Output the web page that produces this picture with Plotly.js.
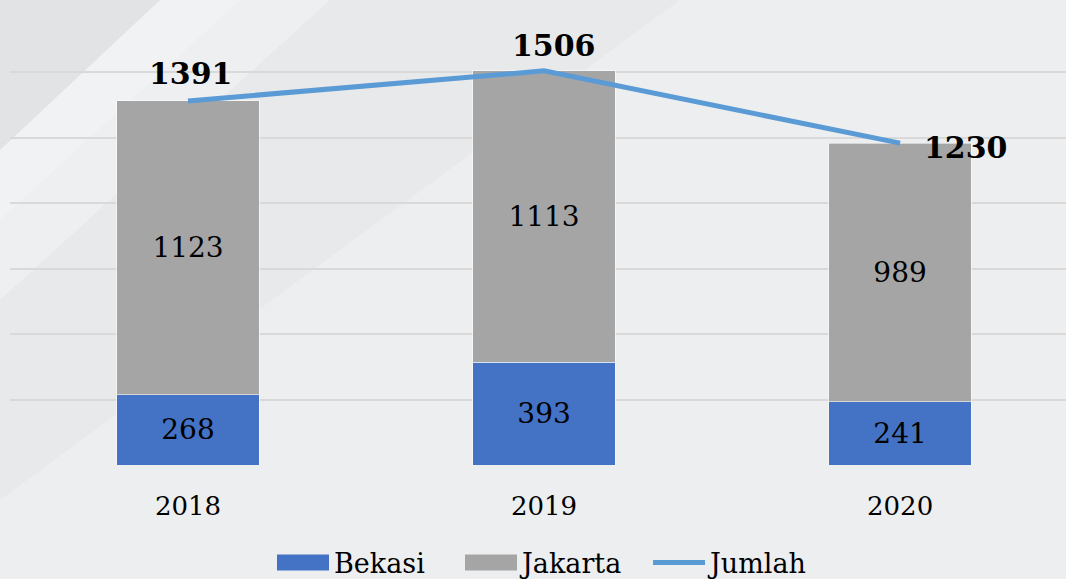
<!DOCTYPE html>
<html>
<head>
<meta charset="utf-8">
<script src="https://cdn.plot.ly/plotly-3.0.1.min.js"></script>
<style>html,body{margin:0;padding:0;background:#EDEEF0;overflow:hidden;}#chart{width:1066px;height:579px;}</style>
</head>
<body>
<div id="chart"></div>
<script>
const years = ['2018', '2019', '2020'];
const bekasi = [268, 393, 241];
const jakarta = [1123, 1113, 989];
const jumlah = [1391, 1506, 1230];

const W = 1066, H = 579, L = 10, R = 0, T = 7, B = 114;
const pw = W - L - R, ph = H - T - B;
function px(x){ return (x - L) / pw; }
function py(y){ return (H - B - y) / ph; }
function path(pts){ return 'M' + pts.map(p => px(p[0]).toFixed(4) + ',' + py(p[1]).toFixed(4)).join(' L') + ' Z'; }

const font = 'DejaVu Serif, Georgia, serif';
const blue = '#4472C4', gray = '#A5A5A5', lineBlue = '#5B9BD5';

const traces = [
  {
    type: 'bar', name: 'Bekasi', x: years, y: bekasi, showlegend: false,
    marker: {color: blue, line: {color: 'rgba(255,255,255,0.55)', width: 1}},
    text: bekasi.map(String), textposition: 'inside', insidetextanchor: 'middle',
    textangle: 0, constraintext: 'none',
    textfont: {family: font, size: 28, color: '#000000'}, hoverinfo: 'skip'
  },
  {
    type: 'bar', name: 'Jakarta', x: years, y: jakarta, showlegend: false,
    marker: {color: gray, line: {color: 'rgba(255,255,255,0.55)', width: 1}},
    text: jakarta.map(String), textposition: 'inside', insidetextanchor: 'middle',
    textangle: 0, constraintext: 'none',
    textfont: {family: font, size: 28, color: '#000000'}, hoverinfo: 'skip'
  },
  {type: 'scatter', mode: 'lines', name: 'Bekasi', x: [null], y: [null], line: {color: blue, width: 16}, hoverinfo: 'skip'},
  {type: 'scatter', mode: 'lines', name: 'Jakarta', x: [null], y: [null], line: {color: gray, width: 16}, hoverinfo: 'skip'},
  {
    type: 'scatter', mode: 'lines', name: 'Jumlah', x: years, y: jumlah,
    line: {color: lineBlue, width: 5}, cliponaxis: false, hoverinfo: 'skip'
  }
];

// label offsets (style only)
const totalShift = [
  {xshift: 3, yshift: 27, xanchor: 'center'},
  {xshift: 10, yshift: 25, xanchor: 'center'},
  {xshift: 22, yshift: -4, xanchor: 'left'}
];
const annotations = years.map((yr, i) => ({
  x: i, y: jumlah[i], xref: 'x', yref: 'y', text: String(jumlah[i]), showarrow: false,
  xanchor: totalShift[i].xanchor, yanchor: 'middle',
  xshift: totalShift[i].xshift, yshift: totalShift[i].yshift,
  font: {family: font, size: 30, color: '#000000', weight: 'bold'}
}));

const shapes = [
  {type: 'path', layer: 'below', xref: 'paper', yref: 'paper', line: {width: 0}, fillcolor: '#E8E9EB',
   path: path([[0,0],[680,0],[0,500]])},
  {type: 'path', layer: 'below', xref: 'paper', yref: 'paper', line: {width: 0}, fillcolor: '#EEEFF1',
   path: path([[160,0],[330,0],[0,300],[0,150]])},
  {type: 'path', layer: 'below', xref: 'paper', yref: 'paper', line: {width: 0}, fillcolor: '#F1F2F4',
   path: path([[160,0],[240,0],[0,220],[0,150]])},
  {type: 'path', layer: 'below', xref: 'paper', yref: 'paper', line: {width: 0}, fillcolor: '#E2E3E5',
   path: path([[0,0],[160,0],[0,150]])}
];

const layout = {
  width: W, height: H,
  margin: {l: L, r: R, t: T, b: B, pad: 0, autoexpand: false},
  paper_bgcolor: '#EDEEF0', plot_bgcolor: 'rgba(0,0,0,0)',
  barmode: 'stack', bargap: 0.6,
  showlegend: true,
  legend: {orientation: 'h', xref: 'container', yref: 'container', x: 272 / W, xanchor: 'left', y: 16 / H, yanchor: 'middle',
           font: {family: font, size: 27, color: '#000000'}, itemwidth: 52, entrywidth: 121, entrywidthmode: 'pixels',
           bgcolor: 'rgba(0,0,0,0)', traceorder: 'normal'},
  xaxis: {type: 'category', range: [-0.5, 2.466], showgrid: false, zeroline: false, showline: false,
          ticks: 'outside', ticklen: 18, tickcolor: 'rgba(0,0,0,0)',
          tickfont: {family: font, size: 26, color: '#000000'}, fixedrange: true},
  yaxis: {range: [0, 1750], dtick: 250, showgrid: true, gridcolor: '#D9D9D9', gridwidth: 2,
          zeroline: false, showticklabels: false, showline: false, fixedrange: true},
  shapes: shapes,
  annotations: annotations,
  hovermode: false
};

const gd = document.getElementById('chart');
function thickenSwatches(){
  const items = gd.querySelectorAll('.legend .traces');
  items.forEach((it, k) => {
    if (k < 2) it.querySelectorAll('.legendlines path').forEach(p => { p.style.strokeWidth = '16px'; });
  });
}
Plotly.newPlot(gd, traces, layout, {displayModeBar: false, staticPlot: true}).then(() => {
  thickenSwatches();
  gd.on('plotly_afterplot', thickenSwatches);
});
</script>
</body>
</html>
